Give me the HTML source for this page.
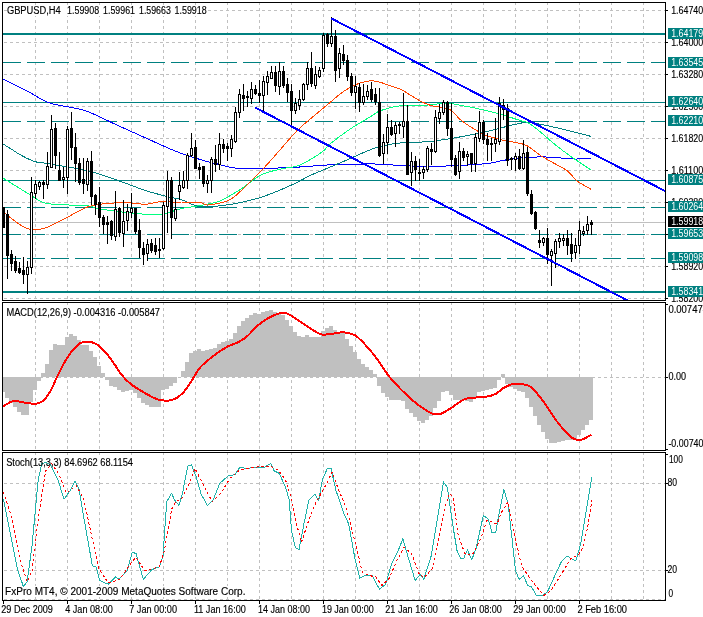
<!DOCTYPE html>
<html><head><meta charset="utf-8"><style>
html,body{margin:0;padding:0;background:#fff;width:703px;height:617px;overflow:hidden}
text{font-family:"Liberation Sans",sans-serif}
</style></head><body>
<svg width="703" height="617" viewBox="0 0 703 617" font-family="Liberation Sans, sans-serif" style="display:block;will-change:transform">
<rect width="703" height="617" fill="#fff"/>
<g shape-rendering="crispEdges">
<line x1="35.5" y1="2" x2="35.5" y2="300" stroke="#c0c0c0" stroke-dasharray="3 3"/>
<line x1="67.5" y1="2" x2="67.5" y2="300" stroke="#c0c0c0" stroke-dasharray="3 3"/>
<line x1="99.5" y1="2" x2="99.5" y2="300" stroke="#c0c0c0" stroke-dasharray="3 3"/>
<line x1="131.5" y1="2" x2="131.5" y2="300" stroke="#c0c0c0" stroke-dasharray="3 3"/>
<line x1="163.5" y1="2" x2="163.5" y2="300" stroke="#c0c0c0" stroke-dasharray="3 3"/>
<line x1="195.5" y1="2" x2="195.5" y2="300" stroke="#c0c0c0" stroke-dasharray="3 3"/>
<line x1="227.5" y1="2" x2="227.5" y2="300" stroke="#c0c0c0" stroke-dasharray="3 3"/>
<line x1="259.5" y1="2" x2="259.5" y2="300" stroke="#c0c0c0" stroke-dasharray="3 3"/>
<line x1="291.5" y1="2" x2="291.5" y2="300" stroke="#c0c0c0" stroke-dasharray="3 3"/>
<line x1="323.5" y1="2" x2="323.5" y2="300" stroke="#c0c0c0" stroke-dasharray="3 3"/>
<line x1="355.5" y1="2" x2="355.5" y2="300" stroke="#c0c0c0" stroke-dasharray="3 3"/>
<line x1="387.5" y1="2" x2="387.5" y2="300" stroke="#c0c0c0" stroke-dasharray="3 3"/>
<line x1="419.5" y1="2" x2="419.5" y2="300" stroke="#c0c0c0" stroke-dasharray="3 3"/>
<line x1="451.5" y1="2" x2="451.5" y2="300" stroke="#c0c0c0" stroke-dasharray="3 3"/>
<line x1="483.5" y1="2" x2="483.5" y2="300" stroke="#c0c0c0" stroke-dasharray="3 3"/>
<line x1="515.5" y1="2" x2="515.5" y2="300" stroke="#c0c0c0" stroke-dasharray="3 3"/>
<line x1="547.5" y1="2" x2="547.5" y2="300" stroke="#c0c0c0" stroke-dasharray="3 3"/>
<line x1="579.5" y1="2" x2="579.5" y2="300" stroke="#c0c0c0" stroke-dasharray="3 3"/>
<line x1="611.5" y1="2" x2="611.5" y2="300" stroke="#c0c0c0" stroke-dasharray="3 3"/>
<line x1="643.5" y1="2" x2="643.5" y2="300" stroke="#c0c0c0" stroke-dasharray="3 3"/>
<line x1="4" y1="10.5" x2="665" y2="10.5" stroke="#c0c0c0" stroke-dasharray="3 3"/>
<line x1="4" y1="42.5" x2="665" y2="42.5" stroke="#c0c0c0" stroke-dasharray="3 3"/>
<line x1="4" y1="74.5" x2="665" y2="74.5" stroke="#c0c0c0" stroke-dasharray="3 3"/>
<line x1="4" y1="106.5" x2="665" y2="106.5" stroke="#c0c0c0" stroke-dasharray="3 3"/>
<line x1="4" y1="138.5" x2="665" y2="138.5" stroke="#c0c0c0" stroke-dasharray="3 3"/>
<line x1="4" y1="170.5" x2="665" y2="170.5" stroke="#c0c0c0" stroke-dasharray="3 3"/>
<line x1="4" y1="202.5" x2="665" y2="202.5" stroke="#c0c0c0" stroke-dasharray="3 3"/>
<line x1="4" y1="234.5" x2="665" y2="234.5" stroke="#c0c0c0" stroke-dasharray="3 3"/>
<line x1="4" y1="266.5" x2="665" y2="266.5" stroke="#c0c0c0" stroke-dasharray="3 3"/>
<line x1="4" y1="298.5" x2="665" y2="298.5" stroke="#c0c0c0" stroke-dasharray="3 3"/>
<line x1="35.5" y1="302" x2="35.5" y2="450" stroke="#c0c0c0" stroke-dasharray="3 3"/>
<line x1="67.5" y1="302" x2="67.5" y2="450" stroke="#c0c0c0" stroke-dasharray="3 3"/>
<line x1="99.5" y1="302" x2="99.5" y2="450" stroke="#c0c0c0" stroke-dasharray="3 3"/>
<line x1="131.5" y1="302" x2="131.5" y2="450" stroke="#c0c0c0" stroke-dasharray="3 3"/>
<line x1="163.5" y1="302" x2="163.5" y2="450" stroke="#c0c0c0" stroke-dasharray="3 3"/>
<line x1="195.5" y1="302" x2="195.5" y2="450" stroke="#c0c0c0" stroke-dasharray="3 3"/>
<line x1="227.5" y1="302" x2="227.5" y2="450" stroke="#c0c0c0" stroke-dasharray="3 3"/>
<line x1="259.5" y1="302" x2="259.5" y2="450" stroke="#c0c0c0" stroke-dasharray="3 3"/>
<line x1="291.5" y1="302" x2="291.5" y2="450" stroke="#c0c0c0" stroke-dasharray="3 3"/>
<line x1="323.5" y1="302" x2="323.5" y2="450" stroke="#c0c0c0" stroke-dasharray="3 3"/>
<line x1="355.5" y1="302" x2="355.5" y2="450" stroke="#c0c0c0" stroke-dasharray="3 3"/>
<line x1="387.5" y1="302" x2="387.5" y2="450" stroke="#c0c0c0" stroke-dasharray="3 3"/>
<line x1="419.5" y1="302" x2="419.5" y2="450" stroke="#c0c0c0" stroke-dasharray="3 3"/>
<line x1="451.5" y1="302" x2="451.5" y2="450" stroke="#c0c0c0" stroke-dasharray="3 3"/>
<line x1="483.5" y1="302" x2="483.5" y2="450" stroke="#c0c0c0" stroke-dasharray="3 3"/>
<line x1="515.5" y1="302" x2="515.5" y2="450" stroke="#c0c0c0" stroke-dasharray="3 3"/>
<line x1="547.5" y1="302" x2="547.5" y2="450" stroke="#c0c0c0" stroke-dasharray="3 3"/>
<line x1="579.5" y1="302" x2="579.5" y2="450" stroke="#c0c0c0" stroke-dasharray="3 3"/>
<line x1="611.5" y1="302" x2="611.5" y2="450" stroke="#c0c0c0" stroke-dasharray="3 3"/>
<line x1="643.5" y1="302" x2="643.5" y2="450" stroke="#c0c0c0" stroke-dasharray="3 3"/>
<line x1="4" y1="377.5" x2="665" y2="377.5" stroke="#c0c0c0" stroke-dasharray="3 3"/>
<line x1="35.5" y1="452" x2="35.5" y2="600" stroke="#c0c0c0" stroke-dasharray="3 3"/>
<line x1="67.5" y1="452" x2="67.5" y2="600" stroke="#c0c0c0" stroke-dasharray="3 3"/>
<line x1="99.5" y1="452" x2="99.5" y2="600" stroke="#c0c0c0" stroke-dasharray="3 3"/>
<line x1="131.5" y1="452" x2="131.5" y2="600" stroke="#c0c0c0" stroke-dasharray="3 3"/>
<line x1="163.5" y1="452" x2="163.5" y2="600" stroke="#c0c0c0" stroke-dasharray="3 3"/>
<line x1="195.5" y1="452" x2="195.5" y2="600" stroke="#c0c0c0" stroke-dasharray="3 3"/>
<line x1="227.5" y1="452" x2="227.5" y2="600" stroke="#c0c0c0" stroke-dasharray="3 3"/>
<line x1="259.5" y1="452" x2="259.5" y2="600" stroke="#c0c0c0" stroke-dasharray="3 3"/>
<line x1="291.5" y1="452" x2="291.5" y2="600" stroke="#c0c0c0" stroke-dasharray="3 3"/>
<line x1="323.5" y1="452" x2="323.5" y2="600" stroke="#c0c0c0" stroke-dasharray="3 3"/>
<line x1="355.5" y1="452" x2="355.5" y2="600" stroke="#c0c0c0" stroke-dasharray="3 3"/>
<line x1="387.5" y1="452" x2="387.5" y2="600" stroke="#c0c0c0" stroke-dasharray="3 3"/>
<line x1="419.5" y1="452" x2="419.5" y2="600" stroke="#c0c0c0" stroke-dasharray="3 3"/>
<line x1="451.5" y1="452" x2="451.5" y2="600" stroke="#c0c0c0" stroke-dasharray="3 3"/>
<line x1="483.5" y1="452" x2="483.5" y2="600" stroke="#c0c0c0" stroke-dasharray="3 3"/>
<line x1="515.5" y1="452" x2="515.5" y2="600" stroke="#c0c0c0" stroke-dasharray="3 3"/>
<line x1="547.5" y1="452" x2="547.5" y2="600" stroke="#c0c0c0" stroke-dasharray="3 3"/>
<line x1="579.5" y1="452" x2="579.5" y2="600" stroke="#c0c0c0" stroke-dasharray="3 3"/>
<line x1="611.5" y1="452" x2="611.5" y2="600" stroke="#c0c0c0" stroke-dasharray="3 3"/>
<line x1="643.5" y1="452" x2="643.5" y2="600" stroke="#c0c0c0" stroke-dasharray="3 3"/>
<line x1="4" y1="483.5" x2="665" y2="483.5" stroke="#c0c0c0" stroke-dasharray="3 3"/>
<line x1="4" y1="570.5" x2="665" y2="570.5" stroke="#c0c0c0" stroke-dasharray="3 3"/>
<line x1="4" y1="599.5" x2="665" y2="599.5" stroke="#c0c0c0" stroke-dasharray="3 3"/>
<rect x="7" y="5" width="200" height="11" fill="#fff"/>
<rect x="7" y="306" width="154" height="12" fill="#fff"/>
<rect x="7" y="457" width="127" height="11" fill="#fff"/>
<rect x="5" y="586" width="241" height="11" fill="#fff"/>
</g>
<g shape-rendering="crispEdges">
<line x1="3" y1="34.0" x2="665" y2="34.0" stroke="#008080" stroke-width="2"/>
<line x1="3" y1="62.5" x2="665" y2="62.5" stroke="#008080" stroke-width="1" stroke-dasharray="18 6"/>
<line x1="3" y1="102.5" x2="665" y2="102.5" stroke="#008080" stroke-width="1"/>
<line x1="3" y1="121.5" x2="665" y2="121.5" stroke="#008080" stroke-width="1" stroke-dasharray="18 6"/>
<line x1="3" y1="180.5" x2="665" y2="180.5" stroke="#008080" stroke-width="1"/>
<line x1="3" y1="207.5" x2="665" y2="207.5" stroke="#008080" stroke-width="1" stroke-dasharray="18 6"/>
<line x1="3" y1="234.5" x2="665" y2="234.5" stroke="#008080" stroke-width="1" stroke-dasharray="18 6"/>
<line x1="3" y1="258.5" x2="665" y2="258.5" stroke="#008080" stroke-width="1" stroke-dasharray="18 6"/>
<line x1="3" y1="292.0" x2="665" y2="292.0" stroke="#008080" stroke-width="2"/>
<line x1="3" y1="222.5" x2="665" y2="222.5" stroke="#c0c0c0"/>
</g>
<path d="M3.00,79.00 C7.33,81.17 21.23,88.00 29.00,92.00 C36.77,96.00 40.35,99.92 49.60,103.00 C58.85,106.08 73.33,106.85 84.50,110.50 C95.67,114.15 106.38,120.32 116.60,124.90 C126.82,129.48 136.07,133.65 145.80,138.00 C155.53,142.35 165.97,147.42 175.00,151.00 C184.03,154.58 192.92,157.33 200.00,159.50 C207.08,161.67 211.17,162.53 217.50,164.00 C223.83,165.47 226.33,167.68 238.00,168.30 C249.67,168.92 272.00,168.28 287.50,167.70 C303.00,167.12 316.42,165.42 331.00,164.80 C345.58,164.18 363.50,163.88 375.00,164.00 C386.50,164.12 391.00,165.10 400.00,165.50 C409.00,165.90 419.33,166.40 429.00,166.40 C438.67,166.40 448.25,165.98 458.00,165.50 C467.75,165.02 480.17,164.32 487.50,163.50 C494.83,162.68 496.18,161.57 502.00,160.60 C507.82,159.63 515.10,158.30 522.40,157.70 C529.70,157.10 537.03,156.78 545.80,157.00 C554.57,157.22 567.47,158.80 575.00,159.00 C582.53,159.20 588.33,158.33 591.00,158.20" fill="none" stroke="#0000ff" stroke-width="1" stroke-linejoin="round" shape-rendering="crispEdges"/>
<path d="M3.00,144.00 C4.17,144.72 7.17,146.53 10.00,148.30 C12.83,150.07 16.75,152.73 20.00,154.60 C23.25,156.47 26.47,158.18 29.50,159.50 C32.53,160.82 35.28,161.83 38.20,162.50 C41.12,163.17 38.78,162.12 47.00,163.50 C55.22,164.88 75.90,168.05 87.50,170.80 C99.10,173.55 106.88,176.70 116.60,180.00 C126.32,183.30 137.07,187.77 145.80,190.60 C154.53,193.43 163.17,195.53 169.00,197.00 C174.83,198.47 175.63,197.82 180.80,199.40 C185.97,200.98 191.80,205.65 200.00,206.50 C208.20,207.35 219.87,206.02 230.00,204.50 C240.13,202.98 250.60,200.62 260.80,197.40 C271.00,194.18 282.77,188.93 291.20,185.20 C299.63,181.47 303.27,178.70 311.40,175.00 C319.53,171.30 329.40,167.50 340.00,163.00 C350.60,158.50 365.00,151.33 375.00,148.00 C385.00,144.67 391.00,144.07 400.00,143.00 C409.00,141.93 419.33,142.55 429.00,141.60 C438.67,140.65 448.25,139.00 458.00,137.30 C467.75,135.60 477.73,133.62 487.50,131.40 C497.27,129.18 509.35,125.45 516.60,124.00 C523.85,122.55 523.77,121.95 531.00,122.70 C538.23,123.45 550.00,126.22 560.00,128.50 C570.00,130.78 585.83,135.08 591.00,136.40" fill="none" stroke="#008080" stroke-width="1" stroke-linejoin="round" shape-rendering="crispEdges"/>
<path d="M3.00,178.00 C7.33,180.67 21.73,189.77 29.00,194.00 C36.27,198.23 36.85,201.43 46.60,203.40 C56.35,205.37 78.77,204.92 87.50,205.80 C96.23,206.68 91.75,207.50 99.00,208.70 C106.25,209.90 120.83,212.03 131.00,213.00 C141.17,213.97 151.70,215.22 160.00,214.50 C168.30,213.78 174.13,210.20 180.80,208.70 C187.47,207.20 193.47,206.78 200.00,205.50 C206.53,204.22 213.25,203.70 220.00,201.00 C226.75,198.30 233.70,193.63 240.50,189.30 C247.30,184.97 254.05,178.38 260.80,175.00 C267.55,171.62 274.93,170.50 281.00,169.00 C287.07,167.50 292.13,167.68 297.20,166.00 C302.27,164.32 307.00,161.43 311.40,158.90 C315.80,156.37 320.50,153.28 323.60,150.80 C326.70,148.32 325.55,147.65 330.00,144.00 C334.45,140.35 343.55,133.45 350.30,128.90 C357.05,124.35 365.45,119.75 370.50,116.70 C375.55,113.65 375.53,112.45 380.60,110.60 C385.67,108.75 394.13,106.43 400.90,105.60 C407.67,104.77 414.45,105.93 421.20,105.60 C427.95,105.27 436.33,103.93 441.40,103.60 C446.47,103.27 448.50,103.33 451.60,103.60 C454.70,103.87 455.22,104.27 460.00,105.20 C464.78,106.13 473.55,107.68 480.30,109.20 C487.05,110.72 494.43,112.60 500.50,114.30 C506.57,116.00 511.97,117.88 516.70,119.40 C521.43,120.92 524.85,121.22 528.90,123.40 C532.95,125.58 536.62,128.95 541.00,132.50 C545.38,136.05 550.13,140.63 555.20,144.70 C560.27,148.77 565.43,152.68 571.40,156.90 C577.37,161.12 587.73,167.82 591.00,170.00" fill="none" stroke="#00ff7f" stroke-width="1" stroke-linejoin="round" shape-rendering="crispEdges"/>
<path d="M3.00,211.60 C5.42,213.50 13.17,220.10 17.50,223.00 C21.83,225.90 24.63,228.08 29.00,229.00 C33.37,229.92 37.87,230.17 43.70,228.50 C49.53,226.83 56.70,222.58 64.00,219.00 C71.30,215.42 80.17,209.60 87.50,207.00 C94.83,204.40 100.75,204.07 108.00,203.40 C115.25,202.73 124.70,202.85 131.00,203.00 C137.30,203.15 140.47,204.57 145.80,204.30 C151.13,204.03 157.17,201.62 163.00,201.40 C168.83,201.18 174.63,202.83 180.80,203.00 C186.97,203.17 195.47,202.07 200.00,202.40 C204.53,202.73 202.93,205.50 208.00,205.00 C213.07,204.50 223.30,203.37 230.40,199.40 C237.50,195.43 244.87,186.60 250.60,181.20 C256.33,175.80 259.73,172.40 264.80,167.00 C269.87,161.60 275.60,154.88 281.00,148.80 C286.40,142.72 291.78,135.92 297.20,130.50 C302.62,125.08 308.03,120.97 313.50,116.30 C318.97,111.63 325.22,106.48 330.00,102.50 C334.78,98.52 338.15,95.27 342.20,92.40 C346.25,89.53 350.25,87.15 354.30,85.30 C358.35,83.45 362.78,81.97 366.50,81.30 C370.22,80.63 372.88,80.63 376.60,81.30 C380.32,81.97 384.75,83.95 388.80,85.30 C392.85,86.65 397.20,87.70 400.90,89.40 C404.60,91.10 407.62,93.48 411.00,95.50 C414.38,97.52 417.82,99.82 421.20,101.50 C424.58,103.18 427.58,104.58 431.30,105.60 C435.02,106.62 440.12,106.77 443.50,107.60 C446.88,108.43 448.85,108.63 451.60,110.60 C454.35,112.57 456.92,116.75 460.00,119.40 C463.08,122.05 466.05,123.97 470.10,126.50 C474.15,129.03 479.23,132.42 484.30,134.60 C489.37,136.78 495.10,138.25 500.50,139.60 C505.90,140.95 512.30,141.68 516.70,142.70 C521.10,143.72 522.85,143.52 526.90,145.70 C530.95,147.88 535.95,152.58 541.00,155.80 C546.05,159.02 552.80,162.47 557.20,165.00 C561.60,167.53 564.02,168.30 567.40,171.00 C570.78,173.70 573.57,178.15 577.50,181.20 C581.43,184.25 588.75,187.95 591.00,189.30" fill="none" stroke="#ff4500" stroke-width="1" stroke-linejoin="round" shape-rendering="crispEdges"/>
<g shape-rendering="crispEdges">
<rect x="3" y="207" width="1" height="21" fill="#000"/>
<rect x="2" y="207" width="3" height="21" fill="#000"/>
<rect x="7" y="210" width="1" height="69" fill="#000"/>
<rect x="6" y="214" width="3" height="42" fill="#000"/>
<rect x="11" y="250" width="1" height="21" fill="#000"/>
<rect x="10" y="254" width="3" height="10" fill="#000"/>
<rect x="15" y="256" width="1" height="17" fill="#000"/>
<rect x="14" y="261" width="3" height="10" fill="#000"/>
<rect x="19" y="262" width="1" height="12" fill="#000"/>
<rect x="18" y="268" width="3" height="5" fill="#000"/>
<rect x="23" y="257" width="1" height="27" fill="#000"/>
<rect x="22" y="270" width="3" height="5" fill="#000"/>
<rect x="27" y="261" width="1" height="33" fill="#000"/>
<rect x="26" y="267" width="3" height="8" fill="#000"/>
<rect x="27" y="268" width="1" height="6" fill="#fff"/>
<rect x="31" y="177" width="1" height="97" fill="#000"/>
<rect x="30" y="192" width="3" height="76" fill="#000"/>
<rect x="31" y="193" width="1" height="74" fill="#fff"/>
<rect x="35" y="180" width="1" height="19" fill="#000"/>
<rect x="34" y="184" width="3" height="10" fill="#000"/>
<rect x="35" y="185" width="1" height="8" fill="#fff"/>
<rect x="39" y="181" width="1" height="9" fill="#000"/>
<rect x="38" y="182" width="3" height="5" fill="#000"/>
<rect x="39" y="183" width="1" height="3" fill="#fff"/>
<rect x="43" y="180" width="1" height="19" fill="#000"/>
<rect x="42" y="182" width="3" height="3" fill="#000"/>
<rect x="47" y="152" width="1" height="37" fill="#000"/>
<rect x="46" y="166" width="3" height="19" fill="#000"/>
<rect x="47" y="167" width="1" height="17" fill="#fff"/>
<rect x="51" y="115" width="1" height="53" fill="#000"/>
<rect x="50" y="129" width="3" height="39" fill="#000"/>
<rect x="51" y="130" width="1" height="37" fill="#fff"/>
<rect x="55" y="123" width="1" height="46" fill="#000"/>
<rect x="54" y="128" width="3" height="28" fill="#000"/>
<rect x="59" y="152" width="1" height="29" fill="#000"/>
<rect x="58" y="170" width="3" height="11" fill="#000"/>
<rect x="63" y="167" width="1" height="21" fill="#000"/>
<rect x="62" y="177" width="3" height="3" fill="#000"/>
<rect x="63" y="178" width="1" height="1" fill="#fff"/>
<rect x="67" y="126" width="1" height="68" fill="#000"/>
<rect x="66" y="129" width="3" height="49" fill="#000"/>
<rect x="67" y="130" width="1" height="47" fill="#fff"/>
<rect x="71" y="112" width="1" height="48" fill="#000"/>
<rect x="70" y="128" width="3" height="20" fill="#000"/>
<rect x="75" y="133" width="1" height="49" fill="#000"/>
<rect x="74" y="147" width="3" height="17" fill="#000"/>
<rect x="79" y="158" width="1" height="27" fill="#000"/>
<rect x="78" y="163" width="3" height="20" fill="#000"/>
<rect x="83" y="158" width="1" height="36" fill="#000"/>
<rect x="82" y="179" width="3" height="5" fill="#000"/>
<rect x="87" y="158" width="1" height="33" fill="#000"/>
<rect x="86" y="161" width="3" height="24" fill="#000"/>
<rect x="87" y="162" width="1" height="22" fill="#fff"/>
<rect x="91" y="151" width="1" height="54" fill="#000"/>
<rect x="90" y="161" width="3" height="36" fill="#000"/>
<rect x="95" y="194" width="1" height="21" fill="#000"/>
<rect x="94" y="195" width="3" height="10" fill="#000"/>
<rect x="99" y="187" width="1" height="40" fill="#000"/>
<rect x="98" y="202" width="3" height="16" fill="#000"/>
<rect x="103" y="215" width="1" height="19" fill="#000"/>
<rect x="102" y="217" width="3" height="8" fill="#000"/>
<rect x="107" y="216" width="1" height="28" fill="#000"/>
<rect x="106" y="222" width="3" height="3" fill="#000"/>
<rect x="111" y="220" width="1" height="20" fill="#000"/>
<rect x="110" y="221" width="3" height="15" fill="#000"/>
<rect x="115" y="191" width="1" height="50" fill="#000"/>
<rect x="114" y="209" width="3" height="28" fill="#000"/>
<rect x="115" y="210" width="1" height="26" fill="#fff"/>
<rect x="119" y="207" width="1" height="30" fill="#000"/>
<rect x="118" y="208" width="3" height="25" fill="#000"/>
<rect x="123" y="200" width="1" height="47" fill="#000"/>
<rect x="122" y="221" width="3" height="13" fill="#000"/>
<rect x="123" y="222" width="1" height="11" fill="#fff"/>
<rect x="127" y="204" width="1" height="27" fill="#000"/>
<rect x="126" y="211" width="3" height="10" fill="#000"/>
<rect x="127" y="212" width="1" height="8" fill="#fff"/>
<rect x="131" y="193" width="1" height="25" fill="#000"/>
<rect x="130" y="208" width="3" height="5" fill="#000"/>
<rect x="131" y="209" width="1" height="3" fill="#fff"/>
<rect x="135" y="208" width="1" height="26" fill="#000"/>
<rect x="134" y="208" width="3" height="24" fill="#000"/>
<rect x="139" y="219" width="1" height="39" fill="#000"/>
<rect x="138" y="230" width="3" height="18" fill="#000"/>
<rect x="143" y="242" width="1" height="23" fill="#000"/>
<rect x="142" y="248" width="3" height="7" fill="#000"/>
<rect x="147" y="239" width="1" height="22" fill="#000"/>
<rect x="146" y="244" width="3" height="10" fill="#000"/>
<rect x="147" y="245" width="1" height="8" fill="#fff"/>
<rect x="151" y="239" width="1" height="14" fill="#000"/>
<rect x="150" y="243" width="3" height="8" fill="#000"/>
<rect x="155" y="238" width="1" height="17" fill="#000"/>
<rect x="154" y="245" width="3" height="7" fill="#000"/>
<rect x="159" y="238" width="1" height="20" fill="#000"/>
<rect x="158" y="249" width="3" height="2" fill="#000"/>
<rect x="163" y="202" width="1" height="48" fill="#000"/>
<rect x="162" y="205" width="3" height="44" fill="#000"/>
<rect x="163" y="206" width="1" height="42" fill="#fff"/>
<rect x="167" y="171" width="1" height="62" fill="#000"/>
<rect x="166" y="180" width="3" height="27" fill="#000"/>
<rect x="167" y="181" width="1" height="25" fill="#fff"/>
<rect x="171" y="177" width="1" height="62" fill="#000"/>
<rect x="170" y="180" width="3" height="38" fill="#000"/>
<rect x="175" y="199" width="1" height="22" fill="#000"/>
<rect x="174" y="209" width="3" height="10" fill="#000"/>
<rect x="175" y="210" width="1" height="8" fill="#fff"/>
<rect x="179" y="172" width="1" height="28" fill="#000"/>
<rect x="178" y="185" width="3" height="7" fill="#000"/>
<rect x="179" y="186" width="1" height="5" fill="#fff"/>
<rect x="183" y="171" width="1" height="18" fill="#000"/>
<rect x="182" y="180" width="3" height="8" fill="#000"/>
<rect x="183" y="181" width="1" height="6" fill="#fff"/>
<rect x="187" y="153" width="1" height="36" fill="#000"/>
<rect x="186" y="155" width="3" height="26" fill="#000"/>
<rect x="187" y="156" width="1" height="24" fill="#fff"/>
<rect x="191" y="133" width="1" height="24" fill="#000"/>
<rect x="190" y="148" width="3" height="8" fill="#000"/>
<rect x="191" y="149" width="1" height="6" fill="#fff"/>
<rect x="195" y="140" width="1" height="29" fill="#000"/>
<rect x="194" y="147" width="3" height="22" fill="#000"/>
<rect x="199" y="163" width="1" height="16" fill="#000"/>
<rect x="198" y="167" width="3" height="3" fill="#000"/>
<rect x="203" y="166" width="1" height="21" fill="#000"/>
<rect x="202" y="166" width="3" height="18" fill="#000"/>
<rect x="207" y="175" width="1" height="18" fill="#000"/>
<rect x="206" y="180" width="3" height="4" fill="#000"/>
<rect x="207" y="181" width="1" height="2" fill="#fff"/>
<rect x="211" y="157" width="1" height="36" fill="#000"/>
<rect x="210" y="159" width="3" height="22" fill="#000"/>
<rect x="211" y="160" width="1" height="20" fill="#fff"/>
<rect x="215" y="145" width="1" height="27" fill="#000"/>
<rect x="214" y="159" width="3" height="6" fill="#000"/>
<rect x="219" y="133" width="1" height="37" fill="#000"/>
<rect x="218" y="144" width="3" height="21" fill="#000"/>
<rect x="219" y="145" width="1" height="19" fill="#fff"/>
<rect x="223" y="139" width="1" height="14" fill="#000"/>
<rect x="222" y="144" width="3" height="5" fill="#000"/>
<rect x="227" y="143" width="1" height="18" fill="#000"/>
<rect x="226" y="146" width="3" height="3" fill="#000"/>
<rect x="231" y="135" width="1" height="22" fill="#000"/>
<rect x="230" y="139" width="3" height="10" fill="#000"/>
<rect x="231" y="140" width="1" height="8" fill="#fff"/>
<rect x="235" y="107" width="1" height="36" fill="#000"/>
<rect x="234" y="112" width="3" height="30" fill="#000"/>
<rect x="235" y="113" width="1" height="28" fill="#fff"/>
<rect x="239" y="89" width="1" height="29" fill="#000"/>
<rect x="238" y="94" width="3" height="19" fill="#000"/>
<rect x="239" y="95" width="1" height="17" fill="#fff"/>
<rect x="243" y="84" width="1" height="27" fill="#000"/>
<rect x="242" y="95" width="3" height="4" fill="#000"/>
<rect x="247" y="91" width="1" height="16" fill="#000"/>
<rect x="246" y="96" width="3" height="2" fill="#000"/>
<rect x="251" y="82" width="1" height="22" fill="#000"/>
<rect x="250" y="89" width="3" height="10" fill="#000"/>
<rect x="251" y="90" width="1" height="8" fill="#fff"/>
<rect x="255" y="85" width="1" height="10" fill="#000"/>
<rect x="254" y="89" width="3" height="5" fill="#000"/>
<rect x="259" y="80" width="1" height="23" fill="#000"/>
<rect x="258" y="93" width="3" height="3" fill="#000"/>
<rect x="263" y="76" width="1" height="35" fill="#000"/>
<rect x="262" y="81" width="3" height="15" fill="#000"/>
<rect x="263" y="82" width="1" height="13" fill="#fff"/>
<rect x="267" y="71" width="1" height="24" fill="#000"/>
<rect x="266" y="76" width="3" height="7" fill="#000"/>
<rect x="267" y="77" width="1" height="5" fill="#fff"/>
<rect x="271" y="66" width="1" height="13" fill="#000"/>
<rect x="270" y="72" width="3" height="7" fill="#000"/>
<rect x="271" y="73" width="1" height="5" fill="#fff"/>
<rect x="275" y="66" width="1" height="26" fill="#000"/>
<rect x="274" y="72" width="3" height="14" fill="#000"/>
<rect x="279" y="62" width="1" height="33" fill="#000"/>
<rect x="278" y="71" width="3" height="16" fill="#000"/>
<rect x="279" y="72" width="1" height="14" fill="#fff"/>
<rect x="283" y="66" width="1" height="22" fill="#000"/>
<rect x="282" y="71" width="3" height="15" fill="#000"/>
<rect x="287" y="78" width="1" height="24" fill="#000"/>
<rect x="286" y="84" width="3" height="9" fill="#000"/>
<rect x="291" y="84" width="1" height="44" fill="#000"/>
<rect x="290" y="91" width="3" height="20" fill="#000"/>
<rect x="295" y="98" width="1" height="16" fill="#000"/>
<rect x="294" y="103" width="3" height="8" fill="#000"/>
<rect x="295" y="104" width="1" height="6" fill="#fff"/>
<rect x="299" y="90" width="1" height="20" fill="#000"/>
<rect x="298" y="99" width="3" height="7" fill="#000"/>
<rect x="299" y="100" width="1" height="5" fill="#fff"/>
<rect x="303" y="83" width="1" height="18" fill="#000"/>
<rect x="302" y="84" width="3" height="16" fill="#000"/>
<rect x="303" y="85" width="1" height="14" fill="#fff"/>
<rect x="307" y="62" width="1" height="28" fill="#000"/>
<rect x="306" y="68" width="3" height="17" fill="#000"/>
<rect x="307" y="69" width="1" height="15" fill="#fff"/>
<rect x="311" y="52" width="1" height="35" fill="#000"/>
<rect x="310" y="68" width="3" height="16" fill="#000"/>
<rect x="315" y="66" width="1" height="23" fill="#000"/>
<rect x="314" y="74" width="3" height="12" fill="#000"/>
<rect x="315" y="75" width="1" height="10" fill="#fff"/>
<rect x="319" y="67" width="1" height="11" fill="#000"/>
<rect x="318" y="70" width="3" height="7" fill="#000"/>
<rect x="319" y="71" width="1" height="5" fill="#fff"/>
<rect x="323" y="33" width="1" height="39" fill="#000"/>
<rect x="322" y="35" width="3" height="34" fill="#000"/>
<rect x="323" y="36" width="1" height="32" fill="#fff"/>
<rect x="327" y="33" width="1" height="14" fill="#000"/>
<rect x="326" y="34" width="3" height="10" fill="#000"/>
<rect x="331" y="17" width="1" height="30" fill="#000"/>
<rect x="330" y="36" width="3" height="8" fill="#000"/>
<rect x="331" y="37" width="1" height="6" fill="#fff"/>
<rect x="335" y="30" width="1" height="52" fill="#000"/>
<rect x="334" y="36" width="3" height="35" fill="#000"/>
<rect x="339" y="48" width="1" height="30" fill="#000"/>
<rect x="338" y="53" width="3" height="16" fill="#000"/>
<rect x="339" y="54" width="1" height="14" fill="#fff"/>
<rect x="343" y="45" width="1" height="20" fill="#000"/>
<rect x="342" y="54" width="3" height="7" fill="#000"/>
<rect x="347" y="55" width="1" height="26" fill="#000"/>
<rect x="346" y="60" width="3" height="17" fill="#000"/>
<rect x="351" y="73" width="1" height="23" fill="#000"/>
<rect x="350" y="76" width="3" height="17" fill="#000"/>
<rect x="355" y="76" width="1" height="33" fill="#000"/>
<rect x="354" y="86" width="3" height="7" fill="#000"/>
<rect x="355" y="87" width="1" height="5" fill="#fff"/>
<rect x="359" y="83" width="1" height="29" fill="#000"/>
<rect x="358" y="87" width="3" height="16" fill="#000"/>
<rect x="363" y="84" width="1" height="21" fill="#000"/>
<rect x="362" y="96" width="3" height="7" fill="#000"/>
<rect x="363" y="97" width="1" height="5" fill="#fff"/>
<rect x="367" y="85" width="1" height="15" fill="#000"/>
<rect x="366" y="91" width="3" height="6" fill="#000"/>
<rect x="367" y="92" width="1" height="4" fill="#fff"/>
<rect x="371" y="82" width="1" height="20" fill="#000"/>
<rect x="370" y="89" width="3" height="11" fill="#000"/>
<rect x="375" y="88" width="1" height="17" fill="#000"/>
<rect x="374" y="94" width="3" height="8" fill="#000"/>
<rect x="379" y="88" width="1" height="69" fill="#000"/>
<rect x="378" y="102" width="3" height="54" fill="#000"/>
<rect x="383" y="134" width="1" height="30" fill="#000"/>
<rect x="382" y="142" width="3" height="12" fill="#000"/>
<rect x="383" y="143" width="1" height="10" fill="#fff"/>
<rect x="387" y="114" width="1" height="40" fill="#000"/>
<rect x="386" y="127" width="3" height="16" fill="#000"/>
<rect x="387" y="128" width="1" height="14" fill="#fff"/>
<rect x="391" y="120" width="1" height="16" fill="#000"/>
<rect x="390" y="127" width="3" height="8" fill="#000"/>
<rect x="395" y="122" width="1" height="25" fill="#000"/>
<rect x="394" y="125" width="3" height="9" fill="#000"/>
<rect x="395" y="126" width="1" height="7" fill="#fff"/>
<rect x="399" y="122" width="1" height="12" fill="#000"/>
<rect x="398" y="124" width="3" height="2" fill="#000"/>
<rect x="403" y="93" width="1" height="45" fill="#000"/>
<rect x="402" y="121" width="3" height="6" fill="#000"/>
<rect x="403" y="122" width="1" height="4" fill="#fff"/>
<rect x="407" y="105" width="1" height="70" fill="#000"/>
<rect x="406" y="121" width="3" height="54" fill="#000"/>
<rect x="411" y="152" width="1" height="34" fill="#000"/>
<rect x="410" y="161" width="3" height="12" fill="#000"/>
<rect x="411" y="162" width="1" height="10" fill="#fff"/>
<rect x="415" y="156" width="1" height="25" fill="#000"/>
<rect x="414" y="161" width="3" height="9" fill="#000"/>
<rect x="419" y="159" width="1" height="22" fill="#000"/>
<rect x="418" y="172" width="3" height="2" fill="#000"/>
<rect x="423" y="166" width="1" height="13" fill="#000"/>
<rect x="422" y="169" width="3" height="4" fill="#000"/>
<rect x="423" y="170" width="1" height="2" fill="#fff"/>
<rect x="427" y="146" width="1" height="26" fill="#000"/>
<rect x="426" y="148" width="3" height="22" fill="#000"/>
<rect x="427" y="149" width="1" height="20" fill="#fff"/>
<rect x="431" y="143" width="1" height="22" fill="#000"/>
<rect x="430" y="149" width="3" height="3" fill="#000"/>
<rect x="435" y="110" width="1" height="43" fill="#000"/>
<rect x="434" y="117" width="3" height="35" fill="#000"/>
<rect x="435" y="118" width="1" height="33" fill="#fff"/>
<rect x="439" y="104" width="1" height="20" fill="#000"/>
<rect x="438" y="112" width="3" height="7" fill="#000"/>
<rect x="439" y="113" width="1" height="5" fill="#fff"/>
<rect x="443" y="100" width="1" height="15" fill="#000"/>
<rect x="442" y="102" width="3" height="11" fill="#000"/>
<rect x="443" y="103" width="1" height="9" fill="#fff"/>
<rect x="447" y="101" width="1" height="35" fill="#000"/>
<rect x="446" y="102" width="3" height="27" fill="#000"/>
<rect x="451" y="103" width="1" height="64" fill="#000"/>
<rect x="450" y="128" width="3" height="32" fill="#000"/>
<rect x="455" y="155" width="1" height="21" fill="#000"/>
<rect x="454" y="158" width="3" height="17" fill="#000"/>
<rect x="459" y="142" width="1" height="37" fill="#000"/>
<rect x="458" y="151" width="3" height="21" fill="#000"/>
<rect x="459" y="152" width="1" height="19" fill="#fff"/>
<rect x="463" y="148" width="1" height="13" fill="#000"/>
<rect x="462" y="151" width="3" height="7" fill="#000"/>
<rect x="467" y="151" width="1" height="15" fill="#000"/>
<rect x="466" y="154" width="3" height="3" fill="#000"/>
<rect x="467" y="155" width="1" height="1" fill="#fff"/>
<rect x="471" y="153" width="1" height="19" fill="#000"/>
<rect x="470" y="153" width="3" height="11" fill="#000"/>
<rect x="475" y="133" width="1" height="39" fill="#000"/>
<rect x="474" y="137" width="3" height="27" fill="#000"/>
<rect x="475" y="138" width="1" height="25" fill="#fff"/>
<rect x="479" y="111" width="1" height="31" fill="#000"/>
<rect x="478" y="122" width="3" height="17" fill="#000"/>
<rect x="479" y="123" width="1" height="15" fill="#fff"/>
<rect x="483" y="120" width="1" height="24" fill="#000"/>
<rect x="482" y="122" width="3" height="18" fill="#000"/>
<rect x="487" y="133" width="1" height="28" fill="#000"/>
<rect x="486" y="139" width="3" height="6" fill="#000"/>
<rect x="491" y="138" width="1" height="23" fill="#000"/>
<rect x="490" y="143" width="3" height="2" fill="#000"/>
<rect x="495" y="118" width="1" height="34" fill="#000"/>
<rect x="494" y="139" width="3" height="5" fill="#000"/>
<rect x="495" y="140" width="1" height="3" fill="#fff"/>
<rect x="499" y="97" width="1" height="48" fill="#000"/>
<rect x="498" y="103" width="3" height="39" fill="#000"/>
<rect x="499" y="104" width="1" height="37" fill="#fff"/>
<rect x="503" y="99" width="1" height="21" fill="#000"/>
<rect x="502" y="105" width="3" height="5" fill="#000"/>
<rect x="507" y="104" width="1" height="62" fill="#000"/>
<rect x="506" y="108" width="3" height="53" fill="#000"/>
<rect x="511" y="157" width="1" height="13" fill="#000"/>
<rect x="510" y="158" width="3" height="2" fill="#000"/>
<rect x="515" y="153" width="1" height="18" fill="#000"/>
<rect x="514" y="156" width="3" height="4" fill="#000"/>
<rect x="515" y="157" width="1" height="2" fill="#fff"/>
<rect x="519" y="149" width="1" height="21" fill="#000"/>
<rect x="518" y="156" width="3" height="13" fill="#000"/>
<rect x="523" y="140" width="1" height="30" fill="#000"/>
<rect x="522" y="153" width="3" height="16" fill="#000"/>
<rect x="523" y="154" width="1" height="14" fill="#fff"/>
<rect x="527" y="147" width="1" height="49" fill="#000"/>
<rect x="526" y="152" width="3" height="42" fill="#000"/>
<rect x="531" y="190" width="1" height="25" fill="#000"/>
<rect x="530" y="194" width="3" height="20" fill="#000"/>
<rect x="535" y="211" width="1" height="19" fill="#000"/>
<rect x="534" y="212" width="3" height="17" fill="#000"/>
<rect x="539" y="230" width="1" height="18" fill="#000"/>
<rect x="538" y="240" width="3" height="3" fill="#000"/>
<rect x="543" y="237" width="1" height="9" fill="#000"/>
<rect x="542" y="238" width="3" height="5" fill="#000"/>
<rect x="543" y="239" width="1" height="3" fill="#fff"/>
<rect x="547" y="228" width="1" height="36" fill="#000"/>
<rect x="546" y="238" width="3" height="17" fill="#000"/>
<rect x="551" y="249" width="1" height="37" fill="#000"/>
<rect x="550" y="251" width="3" height="5" fill="#000"/>
<rect x="551" y="252" width="1" height="3" fill="#fff"/>
<rect x="555" y="239" width="1" height="29" fill="#000"/>
<rect x="554" y="241" width="3" height="13" fill="#000"/>
<rect x="555" y="242" width="1" height="11" fill="#fff"/>
<rect x="559" y="233" width="1" height="15" fill="#000"/>
<rect x="558" y="238" width="3" height="4" fill="#000"/>
<rect x="559" y="239" width="1" height="2" fill="#fff"/>
<rect x="563" y="234" width="1" height="12" fill="#000"/>
<rect x="562" y="238" width="3" height="3" fill="#000"/>
<rect x="563" y="239" width="1" height="1" fill="#fff"/>
<rect x="567" y="230" width="1" height="25" fill="#000"/>
<rect x="566" y="238" width="3" height="8" fill="#000"/>
<rect x="571" y="233" width="1" height="29" fill="#000"/>
<rect x="570" y="244" width="3" height="10" fill="#000"/>
<rect x="575" y="238" width="1" height="21" fill="#000"/>
<rect x="574" y="245" width="3" height="8" fill="#000"/>
<rect x="575" y="246" width="1" height="6" fill="#fff"/>
<rect x="579" y="221" width="1" height="33" fill="#000"/>
<rect x="578" y="230" width="3" height="16" fill="#000"/>
<rect x="579" y="231" width="1" height="14" fill="#fff"/>
<rect x="583" y="226" width="1" height="10" fill="#000"/>
<rect x="582" y="231" width="3" height="3" fill="#000"/>
<rect x="583" y="232" width="1" height="1" fill="#fff"/>
<rect x="587" y="216" width="1" height="19" fill="#000"/>
<rect x="586" y="224" width="3" height="7" fill="#000"/>
<rect x="587" y="225" width="1" height="5" fill="#fff"/>
<rect x="591" y="220" width="1" height="15" fill="#000"/>
<rect x="590" y="222" width="3" height="3" fill="#000"/>
</g>
<line x1="331.5" y1="18.5" x2="665" y2="191" stroke="#0000ff" stroke-width="2" shape-rendering="crispEdges"/>
<line x1="255" y1="107.5" x2="630" y2="301.75" stroke="#0000ff" stroke-width="2" shape-rendering="crispEdges"/>
<g shape-rendering="crispEdges">
<rect x="3" y="377" width="2" height="15" fill="#c0c0c0"/>
<rect x="5" y="377" width="4" height="21" fill="#c0c0c0"/>
<rect x="9" y="377" width="4" height="26" fill="#c0c0c0"/>
<rect x="13" y="377" width="4" height="30" fill="#c0c0c0"/>
<rect x="17" y="377" width="4" height="35" fill="#c0c0c0"/>
<rect x="21" y="377" width="4" height="38" fill="#c0c0c0"/>
<rect x="25" y="377" width="4" height="38" fill="#c0c0c0"/>
<rect x="29" y="377" width="4" height="25" fill="#c0c0c0"/>
<rect x="33" y="377" width="4" height="13" fill="#c0c0c0"/>
<rect x="37" y="377" width="4" height="4" fill="#c0c0c0"/>
<rect x="41" y="373" width="4" height="4" fill="#c0c0c0"/>
<rect x="45" y="364" width="4" height="13" fill="#c0c0c0"/>
<rect x="49" y="350" width="4" height="27" fill="#c0c0c0"/>
<rect x="53" y="344" width="4" height="33" fill="#c0c0c0"/>
<rect x="57" y="345" width="4" height="32" fill="#c0c0c0"/>
<rect x="61" y="345" width="4" height="32" fill="#c0c0c0"/>
<rect x="65" y="337" width="4" height="40" fill="#c0c0c0"/>
<rect x="69" y="334" width="4" height="43" fill="#c0c0c0"/>
<rect x="73" y="336" width="4" height="41" fill="#c0c0c0"/>
<rect x="77" y="340" width="4" height="37" fill="#c0c0c0"/>
<rect x="81" y="345" width="4" height="32" fill="#c0c0c0"/>
<rect x="85" y="345" width="4" height="32" fill="#c0c0c0"/>
<rect x="89" y="351" width="4" height="26" fill="#c0c0c0"/>
<rect x="93" y="357" width="4" height="20" fill="#c0c0c0"/>
<rect x="97" y="366" width="4" height="11" fill="#c0c0c0"/>
<rect x="101" y="373" width="4" height="4" fill="#c0c0c0"/>
<rect x="105" y="377" width="4" height="3" fill="#c0c0c0"/>
<rect x="109" y="377" width="4" height="9" fill="#c0c0c0"/>
<rect x="113" y="377" width="4" height="10" fill="#c0c0c0"/>
<rect x="117" y="377" width="4" height="13" fill="#c0c0c0"/>
<rect x="121" y="377" width="4" height="15" fill="#c0c0c0"/>
<rect x="125" y="377" width="4" height="14" fill="#c0c0c0"/>
<rect x="129" y="377" width="4" height="13" fill="#c0c0c0"/>
<rect x="133" y="377" width="4" height="16" fill="#c0c0c0"/>
<rect x="137" y="377" width="4" height="21" fill="#c0c0c0"/>
<rect x="141" y="377" width="4" height="26" fill="#c0c0c0"/>
<rect x="145" y="377" width="4" height="28" fill="#c0c0c0"/>
<rect x="149" y="377" width="4" height="30" fill="#c0c0c0"/>
<rect x="153" y="377" width="4" height="30" fill="#c0c0c0"/>
<rect x="157" y="377" width="4" height="30" fill="#c0c0c0"/>
<rect x="161" y="377" width="4" height="13" fill="#c0c0c0"/>
<rect x="165" y="377" width="4" height="12" fill="#c0c0c0"/>
<rect x="169" y="377" width="4" height="9" fill="#c0c0c0"/>
<rect x="173" y="377" width="4" height="6" fill="#c0c0c0"/>
<rect x="181" y="371" width="4" height="6" fill="#c0c0c0"/>
<rect x="185" y="362" width="4" height="15" fill="#c0c0c0"/>
<rect x="189" y="353" width="4" height="24" fill="#c0c0c0"/>
<rect x="193" y="351" width="4" height="26" fill="#c0c0c0"/>
<rect x="197" y="349" width="4" height="28" fill="#c0c0c0"/>
<rect x="201" y="351" width="4" height="26" fill="#c0c0c0"/>
<rect x="205" y="350" width="4" height="27" fill="#c0c0c0"/>
<rect x="209" y="349" width="4" height="28" fill="#c0c0c0"/>
<rect x="213" y="348" width="4" height="29" fill="#c0c0c0"/>
<rect x="217" y="344" width="4" height="33" fill="#c0c0c0"/>
<rect x="221" y="342" width="4" height="35" fill="#c0c0c0"/>
<rect x="225" y="341" width="4" height="36" fill="#c0c0c0"/>
<rect x="229" y="339" width="4" height="38" fill="#c0c0c0"/>
<rect x="233" y="333" width="4" height="44" fill="#c0c0c0"/>
<rect x="237" y="326" width="4" height="51" fill="#c0c0c0"/>
<rect x="241" y="321" width="4" height="56" fill="#c0c0c0"/>
<rect x="245" y="318" width="4" height="59" fill="#c0c0c0"/>
<rect x="249" y="315" width="4" height="62" fill="#c0c0c0"/>
<rect x="253" y="313" width="4" height="64" fill="#c0c0c0"/>
<rect x="257" y="314" width="4" height="63" fill="#c0c0c0"/>
<rect x="261" y="312" width="4" height="65" fill="#c0c0c0"/>
<rect x="265" y="311" width="4" height="66" fill="#c0c0c0"/>
<rect x="269" y="310" width="4" height="67" fill="#c0c0c0"/>
<rect x="273" y="312" width="4" height="65" fill="#c0c0c0"/>
<rect x="277" y="313" width="4" height="64" fill="#c0c0c0"/>
<rect x="281" y="315" width="4" height="62" fill="#c0c0c0"/>
<rect x="285" y="320" width="4" height="57" fill="#c0c0c0"/>
<rect x="289" y="326" width="4" height="51" fill="#c0c0c0"/>
<rect x="293" y="332" width="4" height="45" fill="#c0c0c0"/>
<rect x="297" y="336" width="4" height="41" fill="#c0c0c0"/>
<rect x="301" y="337" width="4" height="40" fill="#c0c0c0"/>
<rect x="305" y="335" width="4" height="42" fill="#c0c0c0"/>
<rect x="309" y="337" width="4" height="40" fill="#c0c0c0"/>
<rect x="313" y="337" width="4" height="40" fill="#c0c0c0"/>
<rect x="317" y="337" width="4" height="40" fill="#c0c0c0"/>
<rect x="321" y="331" width="4" height="46" fill="#c0c0c0"/>
<rect x="325" y="328" width="4" height="49" fill="#c0c0c0"/>
<rect x="329" y="326" width="4" height="51" fill="#c0c0c0"/>
<rect x="333" y="330" width="4" height="47" fill="#c0c0c0"/>
<rect x="337" y="332" width="4" height="45" fill="#c0c0c0"/>
<rect x="341" y="333" width="4" height="44" fill="#c0c0c0"/>
<rect x="345" y="339" width="4" height="38" fill="#c0c0c0"/>
<rect x="349" y="346" width="4" height="31" fill="#c0c0c0"/>
<rect x="353" y="352" width="4" height="25" fill="#c0c0c0"/>
<rect x="357" y="359" width="4" height="18" fill="#c0c0c0"/>
<rect x="361" y="364" width="4" height="13" fill="#c0c0c0"/>
<rect x="365" y="367" width="4" height="10" fill="#c0c0c0"/>
<rect x="369" y="370" width="4" height="7" fill="#c0c0c0"/>
<rect x="373" y="374" width="4" height="3" fill="#c0c0c0"/>
<rect x="377" y="377" width="4" height="9" fill="#c0c0c0"/>
<rect x="381" y="377" width="4" height="16" fill="#c0c0c0"/>
<rect x="385" y="377" width="4" height="20" fill="#c0c0c0"/>
<rect x="389" y="377" width="4" height="23" fill="#c0c0c0"/>
<rect x="393" y="377" width="4" height="23" fill="#c0c0c0"/>
<rect x="397" y="377" width="4" height="23" fill="#c0c0c0"/>
<rect x="401" y="377" width="4" height="24" fill="#c0c0c0"/>
<rect x="405" y="377" width="4" height="32" fill="#c0c0c0"/>
<rect x="409" y="377" width="4" height="36" fill="#c0c0c0"/>
<rect x="413" y="377" width="4" height="40" fill="#c0c0c0"/>
<rect x="417" y="377" width="4" height="44" fill="#c0c0c0"/>
<rect x="421" y="377" width="4" height="46" fill="#c0c0c0"/>
<rect x="425" y="377" width="4" height="43" fill="#c0c0c0"/>
<rect x="429" y="377" width="4" height="39" fill="#c0c0c0"/>
<rect x="433" y="377" width="4" height="31" fill="#c0c0c0"/>
<rect x="437" y="377" width="4" height="24" fill="#c0c0c0"/>
<rect x="441" y="377" width="4" height="15" fill="#c0c0c0"/>
<rect x="445" y="377" width="4" height="14" fill="#c0c0c0"/>
<rect x="449" y="377" width="4" height="18" fill="#c0c0c0"/>
<rect x="453" y="377" width="4" height="23" fill="#c0c0c0"/>
<rect x="457" y="377" width="4" height="23" fill="#c0c0c0"/>
<rect x="461" y="377" width="4" height="23" fill="#c0c0c0"/>
<rect x="465" y="377" width="4" height="24" fill="#c0c0c0"/>
<rect x="469" y="377" width="4" height="25" fill="#c0c0c0"/>
<rect x="473" y="377" width="4" height="21" fill="#c0c0c0"/>
<rect x="477" y="377" width="4" height="15" fill="#c0c0c0"/>
<rect x="481" y="377" width="4" height="14" fill="#c0c0c0"/>
<rect x="485" y="377" width="4" height="13" fill="#c0c0c0"/>
<rect x="489" y="377" width="4" height="12" fill="#c0c0c0"/>
<rect x="493" y="377" width="4" height="11" fill="#c0c0c0"/>
<rect x="497" y="377" width="4" height="3" fill="#c0c0c0"/>
<rect x="501" y="374" width="4" height="3" fill="#c0c0c0"/>
<rect x="505" y="377" width="4" height="7" fill="#c0c0c0"/>
<rect x="509" y="377" width="4" height="10" fill="#c0c0c0"/>
<rect x="513" y="377" width="4" height="12" fill="#c0c0c0"/>
<rect x="517" y="377" width="4" height="14" fill="#c0c0c0"/>
<rect x="521" y="377" width="4" height="15" fill="#c0c0c0"/>
<rect x="525" y="377" width="4" height="21" fill="#c0c0c0"/>
<rect x="529" y="377" width="4" height="30" fill="#c0c0c0"/>
<rect x="533" y="377" width="4" height="39" fill="#c0c0c0"/>
<rect x="537" y="377" width="4" height="48" fill="#c0c0c0"/>
<rect x="541" y="377" width="4" height="55" fill="#c0c0c0"/>
<rect x="545" y="377" width="4" height="62" fill="#c0c0c0"/>
<rect x="549" y="377" width="4" height="66" fill="#c0c0c0"/>
<rect x="553" y="377" width="4" height="66" fill="#c0c0c0"/>
<rect x="557" y="377" width="4" height="65" fill="#c0c0c0"/>
<rect x="561" y="377" width="4" height="64" fill="#c0c0c0"/>
<rect x="565" y="377" width="4" height="63" fill="#c0c0c0"/>
<rect x="569" y="377" width="4" height="63" fill="#c0c0c0"/>
<rect x="573" y="377" width="4" height="62" fill="#c0c0c0"/>
<rect x="577" y="377" width="4" height="58" fill="#c0c0c0"/>
<rect x="581" y="377" width="4" height="53" fill="#c0c0c0"/>
<rect x="585" y="377" width="4" height="48" fill="#c0c0c0"/>
<rect x="589" y="377" width="4" height="43" fill="#c0c0c0"/>
</g>
<path d="M3.00,406.50 C4.73,405.58 10.03,401.68 13.40,401.00 C16.77,400.32 19.48,401.93 23.20,402.40 C26.92,402.87 32.43,404.03 35.70,403.80 C38.97,403.57 40.42,402.97 42.80,401.00 C45.18,399.03 47.63,396.00 50.00,392.00 C52.37,388.00 54.63,381.87 57.00,377.00 C59.37,372.13 61.82,366.97 64.20,362.80 C66.58,358.63 68.63,355.27 71.30,352.00 C73.97,348.73 77.52,344.90 80.20,343.20 C82.88,341.50 84.72,341.67 87.40,341.80 C90.08,341.93 93.33,342.30 96.30,344.00 C99.27,345.70 102.23,348.72 105.20,352.00 C108.17,355.28 111.30,359.82 114.10,363.70 C116.90,367.58 119.18,371.88 122.00,375.30 C124.82,378.72 127.42,381.38 131.00,384.20 C134.58,387.02 139.03,389.67 143.50,392.20 C147.97,394.73 153.05,398.10 157.80,399.40 C162.55,400.70 167.83,401.07 172.00,400.00 C176.17,398.93 179.52,396.23 182.80,393.00 C186.08,389.77 188.73,384.93 191.70,380.60 C194.67,376.27 196.73,371.30 200.60,367.00 C204.47,362.70 210.45,358.18 214.90,354.80 C219.35,351.42 223.30,348.85 227.30,346.70 C231.30,344.55 235.48,343.73 238.90,341.90 C242.32,340.07 244.83,338.28 247.80,335.70 C250.77,333.12 253.72,329.08 256.70,326.40 C259.68,323.72 262.42,321.62 265.70,319.60 C268.98,317.58 273.43,315.43 276.40,314.30 C279.37,313.17 281.43,312.80 283.50,312.80 C285.57,312.80 285.83,312.72 288.80,314.30 C291.77,315.88 297.43,319.78 301.30,322.30 C305.17,324.82 308.72,327.38 312.00,329.40 C315.28,331.42 317.73,333.65 321.00,334.40 C324.27,335.15 328.63,334.20 331.60,333.90 C334.57,333.60 336.57,332.83 338.80,332.60 C341.03,332.37 342.33,332.07 345.00,332.50 C347.67,332.93 351.53,333.28 354.80,335.20 C358.07,337.12 361.18,340.43 364.60,344.00 C368.02,347.57 371.13,351.10 375.30,356.60 C379.47,362.10 384.85,371.07 389.60,377.00 C394.35,382.93 399.07,387.58 403.80,392.20 C408.53,396.82 413.23,401.13 418.00,404.70 C422.77,408.27 428.52,412.12 432.40,413.60 C436.28,415.08 438.03,414.63 441.30,413.60 C444.57,412.57 448.88,409.37 452.00,407.40 C455.12,405.43 457.33,403.33 460.00,401.80 C462.67,400.27 463.68,399.03 468.00,398.20 C472.32,397.37 481.25,397.53 485.90,396.80 C490.55,396.07 492.92,395.30 495.90,393.80 C498.88,392.30 500.82,389.47 503.80,387.80 C506.78,386.13 510.15,384.30 513.80,383.80 C517.45,383.30 522.72,384.13 525.70,384.80 C528.68,385.47 528.70,384.97 531.70,387.80 C534.70,390.63 539.72,396.48 543.70,401.80 C547.68,407.12 551.95,414.73 555.60,419.70 C559.25,424.67 562.62,428.45 565.60,431.60 C568.58,434.75 570.85,437.27 573.50,438.60 C576.15,439.93 578.50,440.27 581.50,439.60 C584.50,438.93 589.83,435.43 591.50,434.60" fill="none" stroke="#ff0000" stroke-width="2" stroke-linejoin="round" shape-rendering="crispEdges"/>
<polyline points="3.4,499.3 9.9,531.3 17.2,568.3 23.4,586.7 27.1,581.8 32.0,546.0 38.2,479.6 41.9,463.6 45.6,462.3 50.5,464.8 57.9,479.6 64.0,499.3 70.2,490.6 75.1,480.8 78.8,488.2 86.2,531.3 92.4,565.8 96.1,567.0 99.8,580.6 108.4,584.3 115.8,576.9 118.7,579.3 127.3,570.7 132.2,552.2 136.0,553.5 143.3,579.3 152.0,569.5 159.3,567.0 163.0,556.0 166.7,501.7 171.7,493.1 174.1,499.3 179.0,505.4 182.8,491.9 187.7,466.0 191.4,464.8 196.3,477.1 201.2,494.3 207.4,505.4 213.5,499.3 219.7,483.3 228.3,475.9 234.9,474.6 239.9,467.2 247.2,468.5 254.6,467.2 264.5,467.2 270.7,463.6 274.3,471.0 279.3,473.4 285.4,487.0 289.1,499.3 291.6,531.3 295.3,547.3 299.0,549.8 303.9,523.9 308.8,500.5 315.0,494.3 318.7,500.5 322.4,479.6 327.3,468.5 331.0,468.5 336.0,490.6 344.6,515.3 348.7,523.9 354.9,558.4 359.8,578.1 364.7,575.6 372.1,575.6 379.5,589.2 385.7,584.3 391.8,563.3 398.0,551.0 402.9,538.7 407.8,556.0 415.2,580.6 420.1,574.4 423.8,579.3 431.2,555.9 437.4,519.0 443.5,482.0 447.2,487.0 453.4,528.8 457.1,551.0 460.8,558.4 463.7,558.5 467.4,549.8 471.8,559.7 476.0,548.6 483.4,515.3 488.3,519.0 492.0,532.6 495.7,532.6 499.4,511.6 503.9,489.4 508.1,504.2 511.8,536.3 515.5,570.8 519.2,579.4 523.6,575.7 527.8,585.6 531.5,586.8 536.4,595.4 542.6,595.4 547.5,591.7 553.7,578.2 561.1,562.2 567.2,556.0 570.9,558.5 575.8,560.9 580.8,543.7 585.7,514.1 591.9,477.1" fill="none" stroke="#20b2aa" stroke-width="1" stroke-linejoin="round" shape-rendering="crispEdges"/>
<polyline points="3.4,491.9 12.3,519.0 19.7,558.4 27.1,581.8 32.0,570.7 38.2,519.0 45.6,471.0 51.7,463.6 59.1,474.6 66.5,493.1 76.4,485.7 83.8,499.3 91.2,533.8 98.5,568.3 108.4,583.0 120.0,579.3 129.8,564.6 136.0,557.2 144.6,570.7 159.3,567.0 164.3,551.0 171.7,509.0 176.6,500.5 181.5,499.3 188.9,484.5 195.0,468.5 203.7,485.7 212.3,501.7 220.9,493.1 230.0,478.3 239.9,469.7 254.6,467.2 269.4,466.0 278.0,469.7 285.4,479.6 291.6,499.3 296.5,523.9 301.4,542.4 308.8,520.2 316.2,501.7 319.9,495.6 326.1,484.5 332.2,472.2 338.4,489.4 345.8,506.7 349.9,521.4 356.1,546.0 362.2,572.0 369.6,575.6 375.8,576.9 382.0,585.5 389.3,578.1 396.7,560.9 404.1,547.3 411.5,553.5 418.9,573.2 423.8,578.1 432.5,568.3 438.6,538.7 446.0,504.2 449.7,493.1 453.4,499.3 458.3,536.2 464.9,553.5 472.3,554.8 479.7,541.2 487.1,520.2 497.0,524.0 501.9,511.6 508.1,501.8 514.2,533.8 521.6,565.9 531.5,580.6 543.8,595.4 551.2,590.5 561.1,574.5 570.9,558.5 578.3,554.8 583.2,547.4 588.2,524.0 591.9,500.5" fill="none" stroke="#ff0000" stroke-width="1" stroke-linejoin="round" shape-rendering="crispEdges" stroke-dasharray="2.5 2.5"/>
<g shape-rendering="crispEdges">
<rect x="666" y="0" width="37" height="617" fill="#fff"/>
<rect x="0" y="300" width="666" height="2" fill="#fff"/>
<rect x="0" y="450" width="666" height="2" fill="#fff"/>
<rect x="0" y="600" width="703" height="17" fill="#fff"/>
<rect x="0" y="0" width="703" height="2" fill="#fff"/>
<rect x="0" y="0" width="2" height="617" fill="#fff"/>
<rect x="2.5" y="2.5" width="663" height="298" fill="none" stroke="#000"/>
<rect x="2.5" y="302.5" width="663" height="148" fill="none" stroke="#000"/>
<rect x="2.5" y="452.5" width="663" height="148" fill="none" stroke="#000"/>
</g>
<g shape-rendering="crispEdges">
<rect x="666" y="10" width="2" height="1" fill="#000"/>
<rect x="666" y="42" width="2" height="1" fill="#000"/>
<rect x="666" y="74" width="2" height="1" fill="#000"/>
<rect x="666" y="106" width="2" height="1" fill="#000"/>
<rect x="666" y="138" width="2" height="1" fill="#000"/>
<rect x="666" y="170" width="2" height="1" fill="#000"/>
<rect x="666" y="202" width="2" height="1" fill="#000"/>
<rect x="666" y="234" width="2" height="1" fill="#000"/>
<rect x="666" y="266" width="2" height="1" fill="#000"/>
<rect x="666" y="298" width="2" height="1" fill="#000"/>
</g>
<text x="671.2" y="14" fill="#000" stroke="#000" stroke-width="0.15" font-size="10" textLength="32.0" lengthAdjust="spacingAndGlyphs">1.64740</text>
<text x="671.2" y="46" fill="#000" stroke="#000" stroke-width="0.15" font-size="10" textLength="32.0" lengthAdjust="spacingAndGlyphs">1.64000</text>
<text x="671.2" y="78" fill="#000" stroke="#000" stroke-width="0.15" font-size="10" textLength="32.0" lengthAdjust="spacingAndGlyphs">1.63280</text>
<text x="671.2" y="110" fill="#000" stroke="#000" stroke-width="0.15" font-size="10" textLength="32.0" lengthAdjust="spacingAndGlyphs">1.62560</text>
<text x="671.2" y="142" fill="#000" stroke="#000" stroke-width="0.15" font-size="10" textLength="32.0" lengthAdjust="spacingAndGlyphs">1.61820</text>
<text x="671.2" y="174" fill="#000" stroke="#000" stroke-width="0.15" font-size="10" textLength="32.0" lengthAdjust="spacingAndGlyphs">1.61100</text>
<text x="671.2" y="206" fill="#000" stroke="#000" stroke-width="0.15" font-size="10" textLength="32.0" lengthAdjust="spacingAndGlyphs">1.60380</text>
<text x="671.2" y="238" fill="#000" stroke="#000" stroke-width="0.15" font-size="10" textLength="32.0" lengthAdjust="spacingAndGlyphs">1.59640</text>
<text x="671.2" y="270" fill="#000" stroke="#000" stroke-width="0.15" font-size="10" textLength="32.0" lengthAdjust="spacingAndGlyphs">1.58920</text>
<text x="671.2" y="302" fill="#000" stroke="#000" stroke-width="0.15" font-size="10" textLength="32.0" lengthAdjust="spacingAndGlyphs">1.58200</text>
<g shape-rendering="crispEdges">
<rect x="668" y="28" width="35" height="11" fill="#008080"/>
<rect x="668" y="57" width="35" height="11" fill="#008080"/>
<rect x="668" y="96" width="35" height="11" fill="#008080"/>
<rect x="668" y="115" width="35" height="11" fill="#008080"/>
<rect x="668" y="174" width="35" height="11" fill="#008080"/>
<rect x="668" y="201" width="35" height="11" fill="#008080"/>
<rect x="668" y="216" width="35" height="11" fill="#000"/>
<rect x="668" y="228" width="35" height="11" fill="#008080"/>
<rect x="668" y="252" width="35" height="11" fill="#008080"/>
<rect x="668" y="286" width="35" height="11" fill="#008080"/>
</g>
<text x="671.2" y="37" fill="#fff" stroke="#fff" stroke-width="0.0" font-size="10" textLength="32.0" lengthAdjust="spacingAndGlyphs">1.64179</text>
<text x="671.2" y="66" fill="#fff" stroke="#fff" stroke-width="0.0" font-size="10" textLength="32.0" lengthAdjust="spacingAndGlyphs">1.63545</text>
<text x="671.2" y="105" fill="#fff" stroke="#fff" stroke-width="0.0" font-size="10" textLength="32.0" lengthAdjust="spacingAndGlyphs">1.62640</text>
<text x="671.2" y="124" fill="#fff" stroke="#fff" stroke-width="0.0" font-size="10" textLength="32.0" lengthAdjust="spacingAndGlyphs">1.62210</text>
<text x="671.2" y="183" fill="#fff" stroke="#fff" stroke-width="0.0" font-size="10" textLength="32.0" lengthAdjust="spacingAndGlyphs">1.60875</text>
<text x="671.2" y="210" fill="#fff" stroke="#fff" stroke-width="0.0" font-size="10" textLength="32.0" lengthAdjust="spacingAndGlyphs">1.60264</text>
<text x="671.2" y="225" fill="#fff" stroke="#fff" stroke-width="0.0" font-size="10" textLength="32.0" lengthAdjust="spacingAndGlyphs">1.59918</text>
<text x="671.2" y="237" fill="#fff" stroke="#fff" stroke-width="0.0" font-size="10" textLength="32.0" lengthAdjust="spacingAndGlyphs">1.59653</text>
<text x="671.2" y="261" fill="#fff" stroke="#fff" stroke-width="0.0" font-size="10" textLength="32.0" lengthAdjust="spacingAndGlyphs">1.59098</text>
<text x="671.2" y="295" fill="#fff" stroke="#fff" stroke-width="0.0" font-size="10" textLength="32.0" lengthAdjust="spacingAndGlyphs">1.58341</text>
<text x="668.4" y="313" fill="#000" stroke="#000" stroke-width="0.15" font-size="10" textLength="39.6" lengthAdjust="spacingAndGlyphs">0.007474</text>
<text x="668.4" y="380" fill="#000" stroke="#000" stroke-width="0.15" font-size="10" textLength="17.6" lengthAdjust="spacingAndGlyphs">0.00</text>
<text x="668.4" y="447" fill="#000" stroke="#000" stroke-width="0.15" font-size="10" textLength="35.1" lengthAdjust="spacingAndGlyphs">-0.00740</text>
<text x="668.9" y="463" fill="#000" stroke="#000" stroke-width="0.15" font-size="10" textLength="13.9" lengthAdjust="spacingAndGlyphs">100</text>
<text x="667.4" y="486" fill="#000" stroke="#000" stroke-width="0.15" font-size="10" textLength="9.6" lengthAdjust="spacingAndGlyphs">80</text>
<text x="667.4" y="573" fill="#000" stroke="#000" stroke-width="0.15" font-size="10" textLength="9.6" lengthAdjust="spacingAndGlyphs">20</text>
<text x="668.4" y="597" fill="#000" stroke="#000" stroke-width="0.15" font-size="10" textLength="4.6" lengthAdjust="spacingAndGlyphs">0</text>
<g shape-rendering="crispEdges">
<rect x="666" y="304" width="2" height="1" fill="#000"/>
<rect x="666" y="377" width="2" height="1" fill="#000"/>
<rect x="666" y="449" width="2" height="1" fill="#000"/>
<rect x="666" y="454" width="2" height="1" fill="#000"/>
<rect x="666" y="483" width="2" height="1" fill="#000"/>
<rect x="666" y="570" width="2" height="1" fill="#000"/>
</g>
<g shape-rendering="crispEdges">
<rect x="3" y="600" width="1" height="4" fill="#000"/>
<rect x="67" y="600" width="1" height="4" fill="#000"/>
<rect x="131" y="600" width="1" height="4" fill="#000"/>
<rect x="195" y="600" width="1" height="4" fill="#000"/>
<rect x="259" y="600" width="1" height="4" fill="#000"/>
<rect x="323" y="600" width="1" height="4" fill="#000"/>
<rect x="387" y="600" width="1" height="4" fill="#000"/>
<rect x="451" y="600" width="1" height="4" fill="#000"/>
<rect x="515" y="600" width="1" height="4" fill="#000"/>
<rect x="579" y="600" width="1" height="4" fill="#000"/>
</g>
<text x="1.3" y="613" fill="#000" stroke="#000" stroke-width="0.15" font-size="10" textLength="51.6" lengthAdjust="spacingAndGlyphs">29 Dec 2009</text>
<text x="65.2" y="613" fill="#000" stroke="#000" stroke-width="0.15" font-size="10" textLength="47.6" lengthAdjust="spacingAndGlyphs">4 Jan 08:00</text>
<text x="129.2" y="613" fill="#000" stroke="#000" stroke-width="0.15" font-size="10" textLength="47.8" lengthAdjust="spacingAndGlyphs">7 Jan 00:00</text>
<text x="193.9" y="613" fill="#000" stroke="#000" stroke-width="0.15" font-size="10" textLength="51.9" lengthAdjust="spacingAndGlyphs">11 Jan 16:00</text>
<text x="258.1" y="613" fill="#000" stroke="#000" stroke-width="0.15" font-size="10" textLength="51.9" lengthAdjust="spacingAndGlyphs">14 Jan 08:00</text>
<text x="321.9" y="613" fill="#000" stroke="#000" stroke-width="0.15" font-size="10" textLength="51.9" lengthAdjust="spacingAndGlyphs">19 Jan 00:00</text>
<text x="385.3" y="613" fill="#000" stroke="#000" stroke-width="0.15" font-size="10" textLength="52.6" lengthAdjust="spacingAndGlyphs">21 Jan 16:00</text>
<text x="449.3" y="613" fill="#000" stroke="#000" stroke-width="0.15" font-size="10" textLength="52.6" lengthAdjust="spacingAndGlyphs">26 Jan 08:00</text>
<text x="513.3" y="613" fill="#000" stroke="#000" stroke-width="0.15" font-size="10" textLength="52.6" lengthAdjust="spacingAndGlyphs">29 Jan 00:00</text>
<text x="577.4" y="613" fill="#000" stroke="#000" stroke-width="0.15" font-size="10" textLength="49.6" lengthAdjust="spacingAndGlyphs">2 Feb 16:00</text>
<text x="6.9" y="14" fill="#000" stroke="#000" stroke-width="0.15" font-size="10" textLength="53.9" lengthAdjust="spacingAndGlyphs">GBPUSD,H4</text>
<text x="67.1" y="14" fill="#000" stroke="#000" stroke-width="0.15" font-size="10" textLength="32.1" lengthAdjust="spacingAndGlyphs">1.59908</text>
<text x="103.1" y="14" fill="#000" stroke="#000" stroke-width="0.15" font-size="10" textLength="31.9" lengthAdjust="spacingAndGlyphs">1.59961</text>
<text x="139.0" y="14" fill="#000" stroke="#000" stroke-width="0.15" font-size="10" textLength="31.8" lengthAdjust="spacingAndGlyphs">1.59663</text>
<text x="174.5" y="14" fill="#000" stroke="#000" stroke-width="0.15" font-size="10" textLength="32.2" lengthAdjust="spacingAndGlyphs">1.59918</text>
<text x="6.4" y="316" fill="#000" stroke="#000" stroke-width="0.15" font-size="10" textLength="153.6" lengthAdjust="spacingAndGlyphs">MACD(12,26,9) -0.004316 -0.005847</text>
<text x="6.2" y="466" fill="#000" stroke="#000" stroke-width="0.15" font-size="10" textLength="126.8" lengthAdjust="spacingAndGlyphs">Stoch(13,3,3) 84.6962 68.1154</text>
<text x="5.1" y="595" fill="#000" stroke="#000" stroke-width="0.15" font-size="10" textLength="240.4" lengthAdjust="spacingAndGlyphs">FxPro MT4, &#169; 2001-2009 MetaQuotes Software Corp.</text>
</svg>
</body></html>
